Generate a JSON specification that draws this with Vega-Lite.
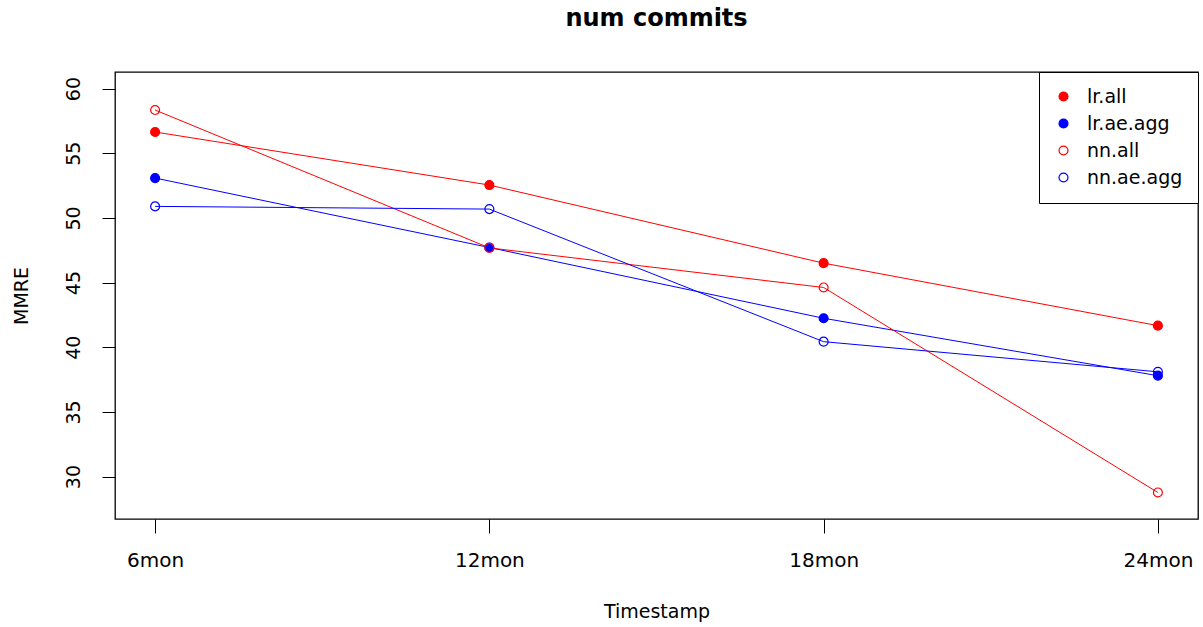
{
  "$schema": "https://vega.github.io/schema/vega-lite/v6.json",
  "width": 1083,
  "height": 447,
  "autosize": {"type": "none"},
  "padding": {"left": 115, "top": 72, "right": 5, "bottom": 108},
  "background": "white",
  "title": {"text": "num commits", "fontSize": 24, "fontWeight": "bold", "font": "DejaVu Sans", "color": "black", "offset": 22, "baseline": "alphabetic", "anchor": "middle"},
  "config": {"view": {"stroke": "black", "strokeWidth": 1.3}, "font": "DejaVu Sans"},
  "data": {"values": [
    {"Timestamp": "6mon", "step": 1, "series": "lr.all", "features": "all", "MMRE": 56.64},
    {"Timestamp": "12mon", "step": 2, "series": "lr.all", "features": "all", "MMRE": 52.54},
    {"Timestamp": "18mon", "step": 3, "series": "lr.all", "features": "all", "MMRE": 46.5},
    {"Timestamp": "24mon", "step": 4, "series": "lr.all", "features": "all", "MMRE": 41.67},
    {"Timestamp": "6mon", "step": 1, "series": "lr.ae.agg", "features": "ae.agg", "MMRE": 53.08},
    {"Timestamp": "12mon", "step": 2, "series": "lr.ae.agg", "features": "ae.agg", "MMRE": 47.71},
    {"Timestamp": "18mon", "step": 3, "series": "lr.ae.agg", "features": "ae.agg", "MMRE": 42.24},
    {"Timestamp": "24mon", "step": 4, "series": "lr.ae.agg", "features": "ae.agg", "MMRE": 37.8},
    {"Timestamp": "6mon", "step": 1, "series": "nn.all", "features": "all", "MMRE": 58.34},
    {"Timestamp": "12mon", "step": 2, "series": "nn.all", "features": "all", "MMRE": 47.68},
    {"Timestamp": "18mon", "step": 3, "series": "nn.all", "features": "all", "MMRE": 44.62},
    {"Timestamp": "24mon", "step": 4, "series": "nn.all", "features": "all", "MMRE": 28.77},
    {"Timestamp": "6mon", "step": 1, "series": "nn.ae.agg", "features": "ae.agg", "MMRE": 50.89},
    {"Timestamp": "12mon", "step": 2, "series": "nn.ae.agg", "features": "ae.agg", "MMRE": 50.68},
    {"Timestamp": "18mon", "step": 3, "series": "nn.ae.agg", "features": "ae.agg", "MMRE": 40.43},
    {"Timestamp": "24mon", "step": 4, "series": "nn.ae.agg", "features": "ae.agg", "MMRE": 38.1}
  ]},
  "encoding": {
    "x": {
      "field": "Timestamp", "type": "ordinal",
      "scale": {"type": "point", "padding": 0.12, "domain": ["6mon", "12mon", "18mon", "24mon"]},
      "axis": {"title": "Timestamp", "titleFontSize": 19, "titleFontWeight": "normal", "titlePadding": 32, "titleColor": "black", "labelFontSize": 20, "labelPadding": 17, "labelAngle": 0, "labelColor": "black", "tickSize": 14, "tickColor": "black", "domain": false, "grid": false}
    },
    "y": {
      "field": "MMRE", "type": "quantitative",
      "scale": {"domain": [26.72, 61.28], "nice": false, "zero": false},
      "axis": {"title": "MMRE", "values": [30, 35, 40, 45, 50, 55, 60], "titleFontSize": 19, "titleFontWeight": "normal", "titlePadding": 33, "titleColor": "black", "labelFontSize": 19, "labelAngle": 270, "labelAlign": "center", "labelBaseline": "bottom", "labelPadding": 19, "labelColor": "black", "tickSize": 13, "tickColor": "black", "domain": false, "grid": false}
    }
  },
  "layer": [
    {
      "mark": {"type": "line", "strokeWidth": 1},
      "encoding": {
        "color": {"field": "features", "type": "nominal", "scale": {"domain": ["all", "ae.agg"], "range": ["#FF0000", "#0000FF"]}, "legend": null},
        "detail": {"field": "series"},
        "order": {"field": "step", "type": "quantitative"}
      }
    },
    {
      "mark": {"type": "point", "size": 80, "strokeWidth": 1.2, "opacity": 1, "shape": "circle"},
      "encoding": {
        "stroke": {"field": "series", "type": "nominal", "scale": {"domain": ["lr.all", "lr.ae.agg", "nn.all", "nn.ae.agg"], "range": ["#FF0000", "#0000FF", "#FF0000", "#0000FF"]},
          "legend": {"title": null, "orient": "top-right", "offset": 0, "strokeColor": "black", "fillColor": "white", "padding": 15, "labelFontSize": 19, "labelFont": "DejaVu Sans", "labelColor": "black", "symbolSize": 80, "symbolStrokeWidth": 1.2, "symbolOpacity": 1, "rowPadding": 7, "labelOffset": 14, "symbolType": "circle"}},
        "fill": {"field": "series", "type": "nominal", "scale": {"domain": ["lr.all", "lr.ae.agg", "nn.all", "nn.ae.agg"], "range": ["#FF0000", "#0000FF", "transparent", "transparent"]},
          "legend": {"title": null, "orient": "top-right", "offset": 0, "strokeColor": "black", "fillColor": "white", "padding": 15, "labelFontSize": 19, "labelFont": "DejaVu Sans", "labelColor": "black", "symbolSize": 80, "symbolStrokeWidth": 1.2, "symbolOpacity": 1, "rowPadding": 7, "labelOffset": 14, "symbolType": "circle"}}
      }
    }
  ]
}
